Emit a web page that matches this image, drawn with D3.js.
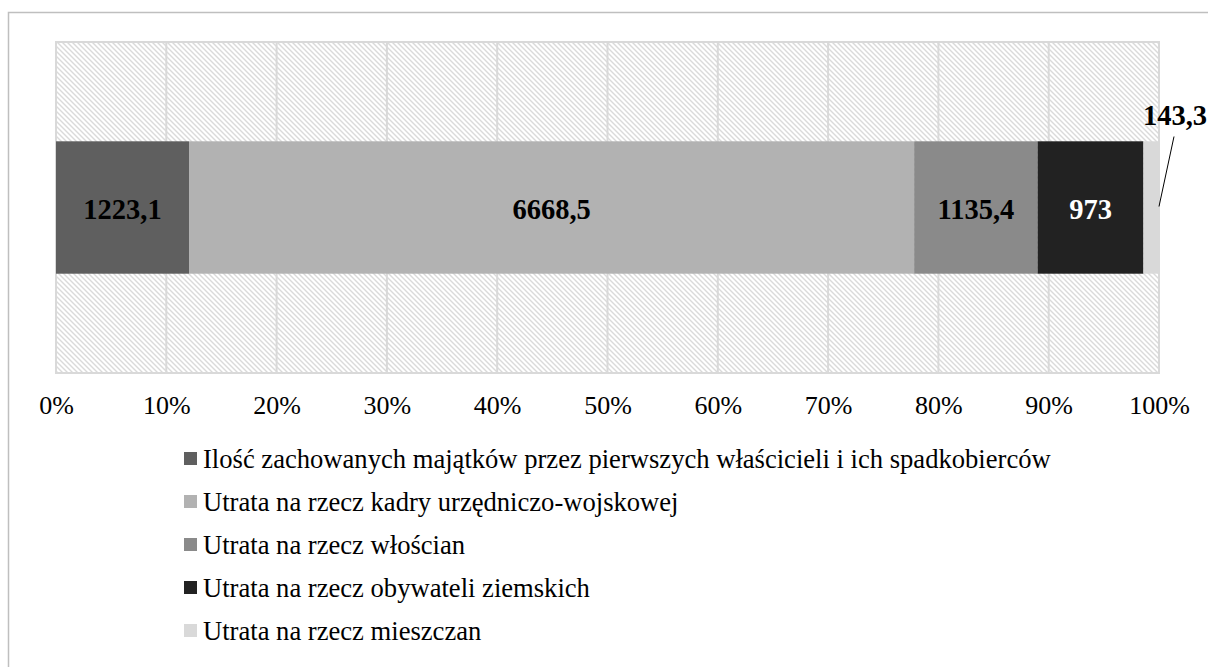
<!DOCTYPE html>
<html>
<head>
<meta charset="utf-8">
<script src="https://cdn.jsdelivr.net/npm/d3@7"></script>
<style>
  body { margin: 0; background: #fff; }
  svg { display: block; }
  svg text { font-family: "Liberation Serif", Tinos, "Times New Roman", Times, "DejaVu Serif", serif !important; }
</style>
</head>
<body>
<svg id="chart" width="1208" height="667"></svg>
<script>
const seriesNames = [
    'Ilość zachowanych majątków przez pierwszych właścicieli i ich spadkobierców',
    'Utrata na rzecz kadry urzędniczo-wojskowej',
    'Utrata na rzecz włościan',
    'Utrata na rzecz obywateli ziemskich',
    'Utrata na rzecz mieszczan'
];
const seriesValues = [1223.1, 6668.5, 1135.4, 973, 143.3];
const valueLabels = ['1223,1', '6668,5', '1135,4', '973', '143,3'];
const seriesColors = ['#5f5f5f', '#b2b2b2', '#8a8a8a', '#222222', '#d9d9d9'];
const labelColors = ['#000', '#000', '#000', '#fff', '#000'];
const tickValues = [0, 0.1, 0.2, 0.3, 0.4, 0.5, 0.6, 0.7, 0.8, 0.9, 1];

const svg = d3.select('#chart');

const plot = { left: 56, right: 1159, top: 42, bottom: 373 };

// hatch fill for plot area
const defs = svg.append('defs');
const pat = defs.append('pattern')
    .attr('id', 'hatch')
    .attr('patternUnits', 'userSpaceOnUse')
    .attr('width', 5)
    .attr('height', 5);
pat.append('rect').attr('width', 5).attr('height', 5).attr('fill', '#fff');
pat.append('path')
    .attr('d', 'M0,0L5,5M-2.5,2.5L2.5,7.5M2.5,-2.5L7.5,2.5')
    .attr('stroke', '#dadada')
    .attr('stroke-width', 1.4);

// outer chart border (right/bottom run off the page)
svg.append('rect')
    .attr('x', 8.5)
    .attr('y', 12.5)
    .attr('width', 1250)
    .attr('height', 700)
    .attr('fill', 'none')
    .attr('stroke', '#bfbfbf')
    .attr('stroke-width', 1.5);

const x = d3.scaleLinear()
    .domain([0, 1])
    .range([plot.left, plot.right]);

const y = d3.scaleBand()
    .domain(['row'])
    .range([plot.top, plot.bottom])
    .paddingInner(0.6)
    .paddingOuter(0.3);

svg.append('rect')
    .attr('x', plot.left)
    .attr('y', plot.top)
    .attr('width', plot.right - plot.left)
    .attr('height', plot.bottom - plot.top)
    .attr('fill', 'url(#hatch)');

// gridlines
svg.append('g')
    .selectAll('line')
    .data(tickValues)
    .join('line')
    .attr('x1', d => x(d))
    .attr('x2', d => x(d))
    .attr('y1', plot.top)
    .attr('y2', plot.bottom)
    .attr('stroke', '#d9d9d9')
    .attr('stroke-width', 2);

svg.append('rect')
    .attr('x', plot.left)
    .attr('y', plot.top)
    .attr('width', plot.right - plot.left)
    .attr('height', plot.bottom - plot.top)
    .attr('fill', 'none')
    .attr('stroke', '#d9d9d9')
    .attr('stroke-width', 2);

// stacked bar
const row = { key: 'row' };
seriesNames.forEach((n, i) => { row[n] = seriesValues[i]; });
const stacked = d3.stack()
    .keys(seriesNames)
    .offset(d3.stackOffsetExpand)([row]);

const bars = svg.append('g');
bars.selectAll('rect')
    .data(stacked)
    .join('rect')
    .attr('x', d => x(d[0][0]))
    .attr('width', d => x(d[0][1]) - x(d[0][0]))
    .attr('y', y('row'))
    .attr('height', y.bandwidth())
    .attr('fill', (d, i) => seriesColors[i]);

const midY = y('row') + y.bandwidth() / 2;

// inside labels (all but last)
bars.selectAll('text.val')
    .data(stacked.slice(0, 4))
    .join('text')
    .attr('class', 'val')
    .attr('x', d => (x(d[0][0]) + x(d[0][1])) / 2)
    .attr('y', midY)
    .attr('dy', '0.42em')
    .attr('text-anchor', 'middle')
    .attr('font-size', 28.5)
    .attr('font-weight', 'bold')
    .attr('fill', (d, i) => labelColors[i])
    .text((d, i) => valueLabels[i]);

// last label outside with leader line
const last = stacked[4];
const lastX = x(last[0][1]);
svg.append('line')
    .attr('x1', lastX)
    .attr('y1', midY - 1)
    .attr('x2', lastX + 15)
    .attr('y2', midY - 71)
    .attr('stroke', '#000')
    .attr('stroke-width', 1);
svg.append('text')
    .attr('x', lastX + 16)
    .attr('y', midY - 83)
    .attr('text-anchor', 'middle')
    .attr('font-size', 28.5)
    .attr('font-weight', 'bold')
    .text(valueLabels[4]);

// x axis labels
const xAxis = d3.axisBottom(x)
    .tickValues(tickValues)
    .tickFormat(d3.format('.0%'))
    .tickSize(0)
    .tickPadding(0);
const axisG = svg.append('g')
    .attr('transform', `translate(0,${plot.bottom})`)
    .call(xAxis);
axisG.select('.domain').remove();
axisG.attr('font-family', null);
axisG.selectAll('text')
    .attr('font-size', 26)
    .attr('fill', '#000')
    .attr('dy', null)
    .attr('y', 41);

// legend
const legend = svg.append('g')
    .selectAll('g')
    .data(seriesNames)
    .join('g')
    .attr('transform', (d, i) => `translate(184,${459 + i * 43})`);
legend.append('rect')
    .attr('x', 0)
    .attr('y', -7)
    .attr('width', 13)
    .attr('height', 13)
    .attr('fill', (d, i) => seriesColors[i]);
legend.append('text')
    .attr('x', 19)
    .attr('y', 0)
    .attr('dy', '0.33em')
    .attr('font-size', 26.6)
    .attr('fill', '#000')
    .text(d => d);
</script>
</body>
</html>
